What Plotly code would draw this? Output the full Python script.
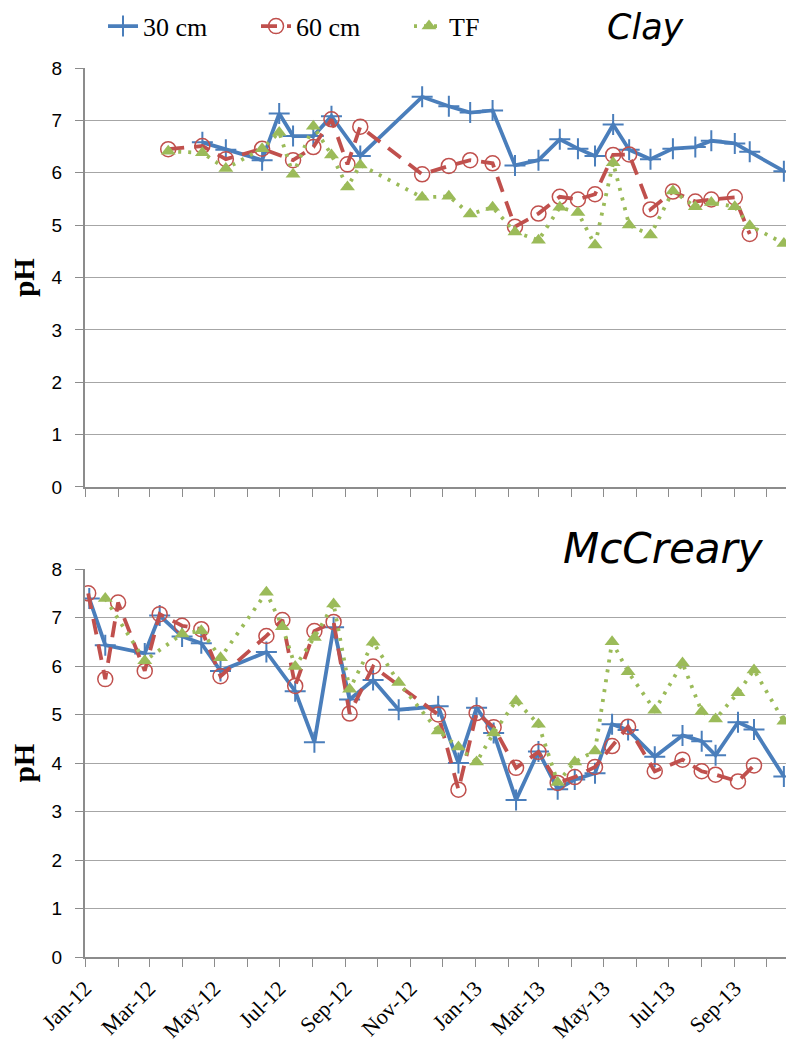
import plotly.graph_objects as go
from plotly.subplots import make_subplots

# ---------------- Clay data ----------------
clay30_dates = ["2012-04-20", "2012-05-12", "2012-06-15", "2012-07-01", "2012-07-14", "2012-08-02",
                "2012-08-19", "2012-09-15", "2012-11-12", "2012-12-07", "2012-12-27", "2013-01-17",
                "2013-02-07", "2013-03-01", "2013-03-21", "2013-04-07", "2013-04-23", "2013-05-10",
                "2013-05-25", "2013-06-14", "2013-07-05", "2013-07-26", "2013-08-10", "2013-09-01",
                "2013-09-15", "2013-10-17"]
clay30_vals = [6.58, 6.44, 6.24, 7.13, 6.70, 6.70, 7.08, 6.32, 7.45, 7.27, 7.15, 7.19,
               6.14, 6.24, 6.64, 6.46, 6.32, 6.92, 6.44, 6.26, 6.46, 6.49, 6.61, 6.56,
               6.40, 6.03]

clay60_dates = ["2012-03-19", "2012-04-20", "2012-05-12", "2012-06-15", "2012-07-14", "2012-08-02",
                "2012-08-19", "2012-09-03", "2012-09-15", "2012-11-12", "2012-12-07", "2012-12-27",
                "2013-01-17", "2013-02-07", "2013-03-01", "2013-03-21", "2013-04-07", "2013-04-23",
                "2013-05-10", "2013-05-25", "2013-06-14", "2013-07-05", "2013-07-26", "2013-08-10",
                "2013-09-01", "2013-09-15"]
clay60_vals = [6.45, 6.51, 6.26, 6.46, 6.24, 6.49, 7.02, 6.16, 6.88, 5.97, 6.13, 6.24,
               6.18, 4.97, 5.22, 5.54, 5.49, 5.59, 6.34, 6.35, 5.30, 5.64, 5.45, 5.49,
               5.53, 4.83]

claytf_dates = ["2012-03-19", "2012-04-20", "2012-05-12", "2012-06-15", "2012-07-01", "2012-07-14",
                "2012-08-02", "2012-08-19", "2012-09-03", "2012-09-15", "2012-11-12", "2012-12-07",
                "2012-12-27", "2013-01-17", "2013-02-07", "2013-03-01", "2013-03-21", "2013-04-07",
                "2013-04-23", "2013-05-10", "2013-05-25", "2013-06-14", "2013-07-05", "2013-07-26",
                "2013-08-10", "2013-09-01", "2013-09-15", "2013-10-17"]
claytf_vals = [6.41, 6.38, 6.08, 6.46, 6.77, 5.97, 6.89, 6.34, 5.73, 6.15, 5.53, 5.55,
               5.21, 5.34, 4.87, 4.71, 5.34, 5.24, 4.62, 6.19, 5.00, 4.81, 5.65, 5.35,
               5.43, 5.35, 4.99, 4.65]

# ---------------- McCreary data ----------------
mc30_dates = ["2012-01-05", "2012-01-20", "2012-02-26", "2012-03-11", "2012-04-01", "2012-04-19",
              "2012-05-07", "2012-06-19", "2012-07-16", "2012-08-03", "2012-08-21", "2012-09-05",
              "2012-09-27", "2012-10-21", "2012-11-27", "2012-12-16", "2013-01-02", "2013-01-18",
              "2013-02-08", "2013-03-01", "2013-03-19", "2013-04-04", "2013-04-23", "2013-05-09",
              "2013-05-24", "2013-06-18", "2013-07-14", "2013-08-01", "2013-08-14", "2013-09-04",
              "2013-09-19", "2013-10-17"]
mc30_vals = [7.39, 6.43, 6.26, 7.04, 6.61, 6.47, 5.90, 6.29, 5.48, 4.43, 6.80, 5.31,
             5.71, 5.10, 5.17, 4.00, 5.14, 4.62, 3.24, 4.24, 3.46, 3.66, 3.79, 4.80,
             4.68, 4.13, 4.57, 4.45, 4.16, 4.84, 4.69, 3.72]

mc60_dates = ["2012-01-04", "2012-01-20", "2012-02-01", "2012-02-26", "2012-03-11", "2012-04-01",
              "2012-04-19", "2012-05-07", "2012-06-19", "2012-07-04", "2012-07-16", "2012-08-03",
              "2012-08-21", "2012-09-05", "2012-09-27", "2012-11-27", "2012-12-16", "2013-01-02",
              "2013-01-18", "2013-02-08", "2013-03-01", "2013-03-19", "2013-04-04", "2013-04-23",
              "2013-05-09", "2013-05-24", "2013-06-18", "2013-07-14", "2013-08-01", "2013-08-14",
              "2013-09-04", "2013-09-19"]
mc60_vals = [7.50, 5.73, 7.31, 5.90, 7.07, 6.83, 6.76, 5.79, 6.62, 6.95, 5.59, 6.72,
             6.91, 5.02, 5.99, 5.00, 3.45, 5.03, 4.74, 3.90, 4.23, 3.59, 3.71, 3.92,
             4.35, 4.75, 3.83, 4.07, 3.83, 3.76, 3.62, 3.95]

mctf_dates = ["2012-01-20", "2012-02-26", "2012-04-01", "2012-04-19", "2012-05-07", "2012-06-19",
              "2012-07-04", "2012-07-16", "2012-08-03", "2012-08-21", "2012-09-05", "2012-09-27",
              "2012-10-21", "2012-11-27", "2012-12-16", "2013-01-02", "2013-01-18", "2013-02-08",
              "2013-03-01", "2013-03-19", "2013-04-04", "2013-04-23", "2013-05-09", "2013-05-24",
              "2013-06-18", "2013-07-14", "2013-08-01", "2013-08-14", "2013-09-04", "2013-09-19",
              "2013-10-17"]
mctf_vals = [7.39, 6.11, 6.66, 6.73, 6.17, 7.52, 6.81, 5.99, 6.59, 7.28, 5.52, 6.49,
             5.66, 4.66, 4.33, 4.02, 4.62, 5.28, 4.80, 3.60, 4.02, 4.25, 6.50, 5.88,
             5.09, 6.06, 5.06, 4.91, 5.45, 5.92, 4.86]

series_names = ["30 cm", "60 cm", "TF"]
panel_titles = ["Clay", "McCreary"]
y_ticks = [0, 1, 2, 3, 4, 5, 6, 7, 8]

BLUE = "#4A7EBB"
RED = "#C0504D"
GREEN = "#9BBB59"

styles = [
    dict(line=dict(color=BLUE, width=3.8),
         marker=dict(symbol="cross-thin", size=15, color=BLUE, line=dict(color=BLUE, width=2))),
    dict(line=dict(color=RED, width=3.8, dash="16px,10px"),
         marker=dict(symbol="circle-open", size=15, color=RED, line=dict(color=RED, width=1.5))),
    dict(line=dict(color=GREEN, width=3.8, dash="3px,7px"),
         marker=dict(symbol="triangle-up", size=13, color=GREEN)),
]

fig = make_subplots(rows=2, cols=1, shared_xaxes=False)

panels = [
    [(clay30_dates, clay30_vals), (clay60_dates, clay60_vals), (claytf_dates, claytf_vals)],
    [(mc30_dates, mc30_vals), (mc60_dates, mc60_vals), (mctf_dates, mctf_vals)],
]

for r, panel in enumerate(panels, start=1):
    for i, (d, v) in enumerate(panel):
        fig.add_trace(go.Scatter(x=d, y=v, mode="lines+markers", name=series_names[i],
                                 showlegend=(r == 1), **styles[i]), row=r, col=1)

xrange = ["2012-01-01", "2013-10-19"]
common_x = dict(type="date", range=xrange, showgrid=False, showline=True, linecolor="#8C8C8C",
                linewidth=1.5, ticks="outside", ticklen=8, tickcolor="#8C8C8C", tickwidth=1.3,
                dtick="M2", tick0="2012-01-01", tickformat="%b-%y", zeroline=False, automargin=False,
                minor=dict(dtick="M1", ticks="outside", ticklen=8, tickcolor="#8C8C8C", tickwidth=1.3))
common_y = dict(range=[0, 8], tickvals=y_ticks, showgrid=True, gridcolor="#A6A6A6", gridwidth=1.3,
                showline=True, linecolor="#8C8C8C", linewidth=2, ticks="outside", ticklen=8,
                tickcolor="#8C8C8C", tickwidth=1.3, zeroline=False, ticklabelstandoff=9,
                automargin=False,
                tickfont=dict(family="Liberation Sans", size=19, color="black"),
                title=dict(text="<b>pH</b>", font=dict(family="Liberation Serif", size=29, color="black"),
                           standoff=8))

fig.update_layout(
    width=786, height=1042,
    margin=dict(l=85, r=0, t=68, b=85),
    plot_bgcolor="white", paper_bgcolor="white",
    xaxis=dict(common_x, domain=[0, 1], anchor="y", showticklabels=False),
    yaxis=dict(common_y, domain=[0.5287, 1.0], anchor="x"),
    xaxis2=dict(common_x, domain=[0, 1], anchor="y2", tickangle=-45, ticklabelstandoff=0,
                tickfont=dict(family="Liberation Serif", size=22, color="black")),
    yaxis2=dict(common_y, domain=[0.0, 0.4364], anchor="x2"),
    legend=dict(orientation="h", x=0.0257, xanchor="left", y=1.047, yanchor="middle",
                font=dict(family="Liberation Serif", size=26, color="black"),
                bgcolor="rgba(0,0,0,0)", entrywidth=108, entrywidthmode="pixels",
                tracegroupgap=0),
    showlegend=True,
)

fig.add_annotation(text="<i>" + panel_titles[0] + "</i>", xref="paper", yref="paper", x=0.8, y=1.046,
                   xanchor="center", yanchor="middle", showarrow=False,
                   font=dict(family="DejaVu Sans", size=35, color="black"))
fig.add_annotation(text="<i>" + panel_titles[1] + "</i>", xref="paper", yref="paper", x=0.825, y=0.459,
                   xanchor="center", yanchor="middle", showarrow=False,
                   font=dict(family="DejaVu Sans", size=42, color="black"))

fig.write_html("out.html")
